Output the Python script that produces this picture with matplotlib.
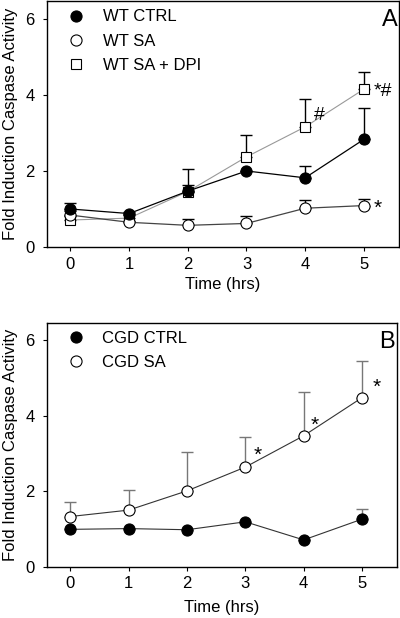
import numpy as np
import matplotlib
matplotlib.use("Agg")
import matplotlib.pyplot as plt

plt.rcParams['font.family'] = ['Liberation Sans', 'DejaVu Sans']

# Datos
time_hrs = [0, 1, 2, 3, 4, 5]

wt_ctrl = [1.00, 0.88, 1.47, 2.00, 1.82, 2.83]
wt_ctrl_err = [0.15, 0.05, 0.15, 0.0, 0.32, 0.82]
wt_sa = [0.84, 0.65, 0.57, 0.62, 1.02, 1.09]
wt_sa_err = [0.10, 0.04, 0.17, 0.20, 0.21, 0.16]
wt_dpi = [0.71, 0.76, 1.46, 2.37, 3.16, 4.15]
wt_dpi_err = [0.10, 0.08, 0.60, 0.58, 0.73, 0.46]

cgd_ctrl = [0.99, 1.01, 0.98, 1.19, 0.71, 1.26]
cgd_ctrl_err = [0.0, 0.0, 0.0, 0.0, 0.0, 0.28]
cgd_sa = [1.33, 1.50, 2.01, 2.64, 3.47, 4.48]
cgd_sa_err = [0.38, 0.53, 1.02, 0.79, 1.17, 0.97]

fig = plt.figure(figsize=(4, 6.18), dpi=100)
ax1 = fig.add_axes([0.1175, 0.6003, 0.88, 0.398])
ax2 = fig.add_axes([0.1175, 0.083, 0.875, 0.395])


def serie(ax, x, y, err, mfc, marker, label, lc, ecol, lw=0.9, ms=8):
    ax.errorbar(x, y, yerr=[np.zeros(len(err)), err], fmt='none', ecolor=ecol,
                elinewidth=1.0, capsize=4.5, capthick=1.0, zorder=2)
    ax.plot(x, y, color=lc, lw=lw, zorder=3)
    ax.plot(x, y, linestyle='none', marker=marker, ms=ms, mfc=mfc, mec='black',
            mew=0.8, label=label, zorder=4)


# Panel A
serie(ax1, time_hrs, wt_dpi, wt_dpi_err, 'white', 's', 'WT SA + DPI', '#999999', 'black', lw=0.8, ms=7.5)
serie(ax1, time_hrs, wt_sa, wt_sa_err, 'white', 'o', 'WT SA', '#444444', 'black')
serie(ax1, time_hrs, wt_ctrl, wt_ctrl_err, 'black', 'o', 'WT CTRL', 'black', 'black')

ax1.text(5.17, 4.1, '*#', fontsize=14, ha='left', va='center')
ax1.text(4.15, 3.45, '#', fontsize=14, ha='left', va='center')
ax1.text(5.17, 1.02, '*', fontsize=15, ha='left', va='center')
ax1.text(5.57, 6.25, 'A', fontsize=17, ha='right', va='top')

h, l = ax1.get_legend_handles_labels()
order = [2, 1, 0]
ax1.legend([h[i] for i in order], [l[i] for i in order], loc='upper left',
           bbox_to_anchor=(0.03, 1.0), frameon=False, fontsize=12,
           handletextpad=1.0, borderaxespad=0.1, labelspacing=0.55,
           handlelength=1.2)

# Panel B
serie(ax2, time_hrs, cgd_sa, cgd_sa_err, 'white', 'o', 'CGD SA', '#333333', '#777777', lw=0.8)
serie(ax2, time_hrs, cgd_ctrl, cgd_ctrl_err, 'black', 'o', 'CGD CTRL', '#333333', '#777777', lw=0.8)

ax2.text(3.15, 2.95, '*', fontsize=15, ha='left', va='center')
ax2.text(4.12, 3.75, '*', fontsize=15, ha='left', va='center')
ax2.text(5.18, 4.75, '*', fontsize=15, ha='left', va='center')
ax2.text(5.57, 6.25, 'B', fontsize=17, ha='right', va='top')

h, l = ax2.get_legend_handles_labels()
ax2.legend([h[1], h[0]], [l[1], l[0]], loc='upper left',
           bbox_to_anchor=(0.03, 1.0), frameon=False, fontsize=12,
           handletextpad=1.0, borderaxespad=0.1, labelspacing=0.55,
           handlelength=1.2)

for ax in (ax1, ax2):
    ax.set_xlim(-0.4, 5.6)
    ax.set_ylim(0, 6.47)
    ax.set_xticks(time_hrs)
    ax.set_yticks([0, 2, 4, 6])
    ax.tick_params(direction='out', length=3, width=0.8, labelsize=12, top=False, right=False)
    ax.tick_params(axis='x', pad=4)
    ax.tick_params(axis='y', pad=6)
    ax.set_ylabel('Fold Induction Caspase Activity', fontsize=12, labelpad=5)
    for s in ax.spines.values():
        s.set_linewidth(1.0)

ax1.set_xlabel('Time (hrs)', fontsize=12, labelpad=4)
ax2.set_xlabel('Time (hrs)', fontsize=12, labelpad=6)

fig.savefig('out.png', dpi=100)
